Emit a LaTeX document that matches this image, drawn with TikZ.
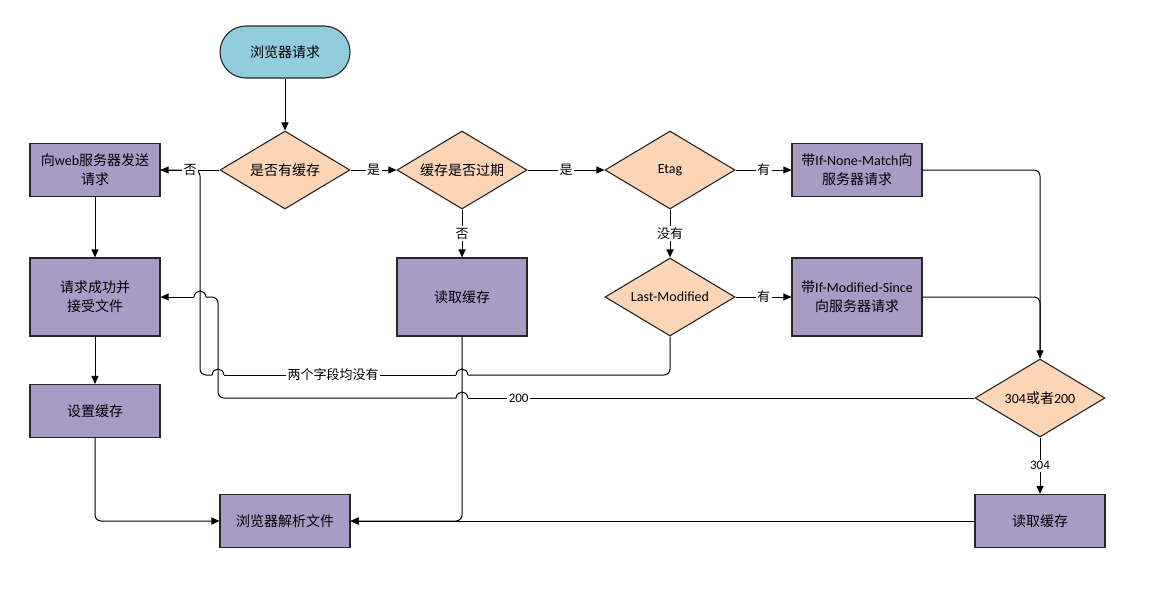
\documentclass[tikz,border=0pt]{standalone}
\usepackage{fontspec}
\setmainfont{Carlito}
\newfontfamily\cjk{Noto Sans CJK SC}
\usepackage{tikz}
\usetikzlibrary{shapes.geometric, arrows.meta}
\definecolor{boxpurple}{RGB}{168,155,196}
\definecolor{decpeach}{RGB}{251,213,181}
\definecolor{startblue}{RGB}{146,205,221}
\newcommand{\zh}[1]{{\cjk #1}}
% small line jump over a vertical line at x=#1, going leftwards
\newcommand{\jumpat}[2]{\draw[flow] (#1+6,#2) .. controls (#1+5,#2-8) and (#1-5,#2-8) .. (#1-6,#2);}

\begin{document}
\begin{tikzpicture}[x=1pt, y=-1pt, font=\fontsize{14}{19}\selectfont]

  \useasboundingbox (0,0) rectangle (1150,592);

  \tikzset{
    proc/.style={draw=black!85, line width=1.1pt, fill=boxpurple,
      minimum width=130pt, minimum height=53pt, align=center, inner sep=2pt},
    tallproc/.style={proc, minimum height=78pt},
    dec/.style={diamond, draw=black!85, line width=1.1pt, fill=decpeach,
      minimum width=130pt, minimum height=78pt, aspect=1.67, inner sep=0pt,
      align=center},
    startnode/.style={draw=black!85, line width=1.1pt, fill=startblue,
      rounded corners=26pt, minimum width=130pt, minimum height=52pt},
    flow/.style={line width=1pt},
    arr/.style={flow, -{Triangle[length=8pt, width=7pt]}},
    lbl/.style={fill=white, inner sep=1.5pt, font=\fontsize{13}{15}\selectfont}
  }

  %% Nodes
  \node[startnode] (start) at (285,52)  {\zh{浏览器请求}};
  \node[dec]       (q1)    at (285,170) {\zh{是否有缓存}};
  \node[dec]       (q2)    at (462,170) {\zh{缓存是否过期}};
  \node[dec]       (etag)  at (670,170) {Etag};
  \node[proc]      (inm)   at (857,170) {\zh{带}If-None-Match\zh{向}\\\zh{服务器请求}};
  \node[proc]      (web)   at (95,170)  {\zh{向}web\zh{服务器发送}\\\zh{请求}};
  \node[tallproc]  (ok)    at (95,297)  {\zh{请求成功并}\\\zh{接受文件}};
  \node[tallproc]  (readm) at (462,297) {\zh{读取缓存}};
  \node[dec]       (lm)    at (670,297) {Last-Modified};
  \node[tallproc]  (ims)   at (857,297) {\zh{带}If-Modified-Since\\\zh{向服务器请求}};
  \node[dec]       (q304)  at (1040,398) {304\zh{或者}200};
  \node[proc]      (setc)  at (95,411)  {\zh{设置缓存}};
  \node[proc]      (parse) at (285,521) {\zh{浏览器解析文件}};
  \node[proc]      (readr) at (1040,521) {\zh{读取缓存}};

  %% Neither field: back to the server request
  \draw[flow, rounded corners=6] (lm.south) |- (468,375);
  \jumpat{462}{375}
  \draw[flow] (456,375) -- node[lbl, pos=0.53] {\zh{两个字段均没有}} (224,375);
  \jumpat{218}{375}
  \draw[flow, rounded corners=6] (212,375) -- (200,375) -- (200,170) -- (web.east);

  %% 200: fresh file from the server
  \draw[flow] (q304.west) -- node[lbl, pos=0.9] {200} (468,398);
  \jumpat{462}{398}
  \draw[flow, rounded corners=6] (456,398) -- (218,398) -- (218,297) -- (206,297);
  \jumpat{200}{297}
  \draw[arr] (194,297) -- (ok.east);

  %% Main flow
  \draw[arr] (start) -- (q1);
  \draw[arr] (q1) -- node[lbl] {\zh{否}} (web);
  \draw[arr] (q1) -- node[lbl] {\zh{是}} (q2);
  \draw[arr] (q2) -- node[lbl] {\zh{是}} (etag);
  \draw[arr] (q2) -- node[lbl] {\zh{否}} (readm);
  \draw[arr] (etag) -- node[lbl] {\zh{有}} (inm);
  \draw[arr] (etag) -- node[lbl] {\zh{没有}} (lm);
  \draw[arr] (lm) -- node[lbl] {\zh{有}} (ims);
  \draw[arr, rounded corners=6] (inm.east) -| (q304.north);
  \draw[flow, rounded corners=6] (ims.east) -| (q304.north);
  \draw[arr] (q304) -- node[lbl] {304} (readr);
  \draw[arr] (web) -- (ok);
  \draw[arr] (ok) -- (setc);
  \draw[arr, rounded corners=6] (setc.south) |- (parse.west);
  \draw[arr, rounded corners=6] (readm.south) |- (parse.east);
  \draw[arr] (readr) -- (parse);

\end{tikzpicture}
\end{document}
